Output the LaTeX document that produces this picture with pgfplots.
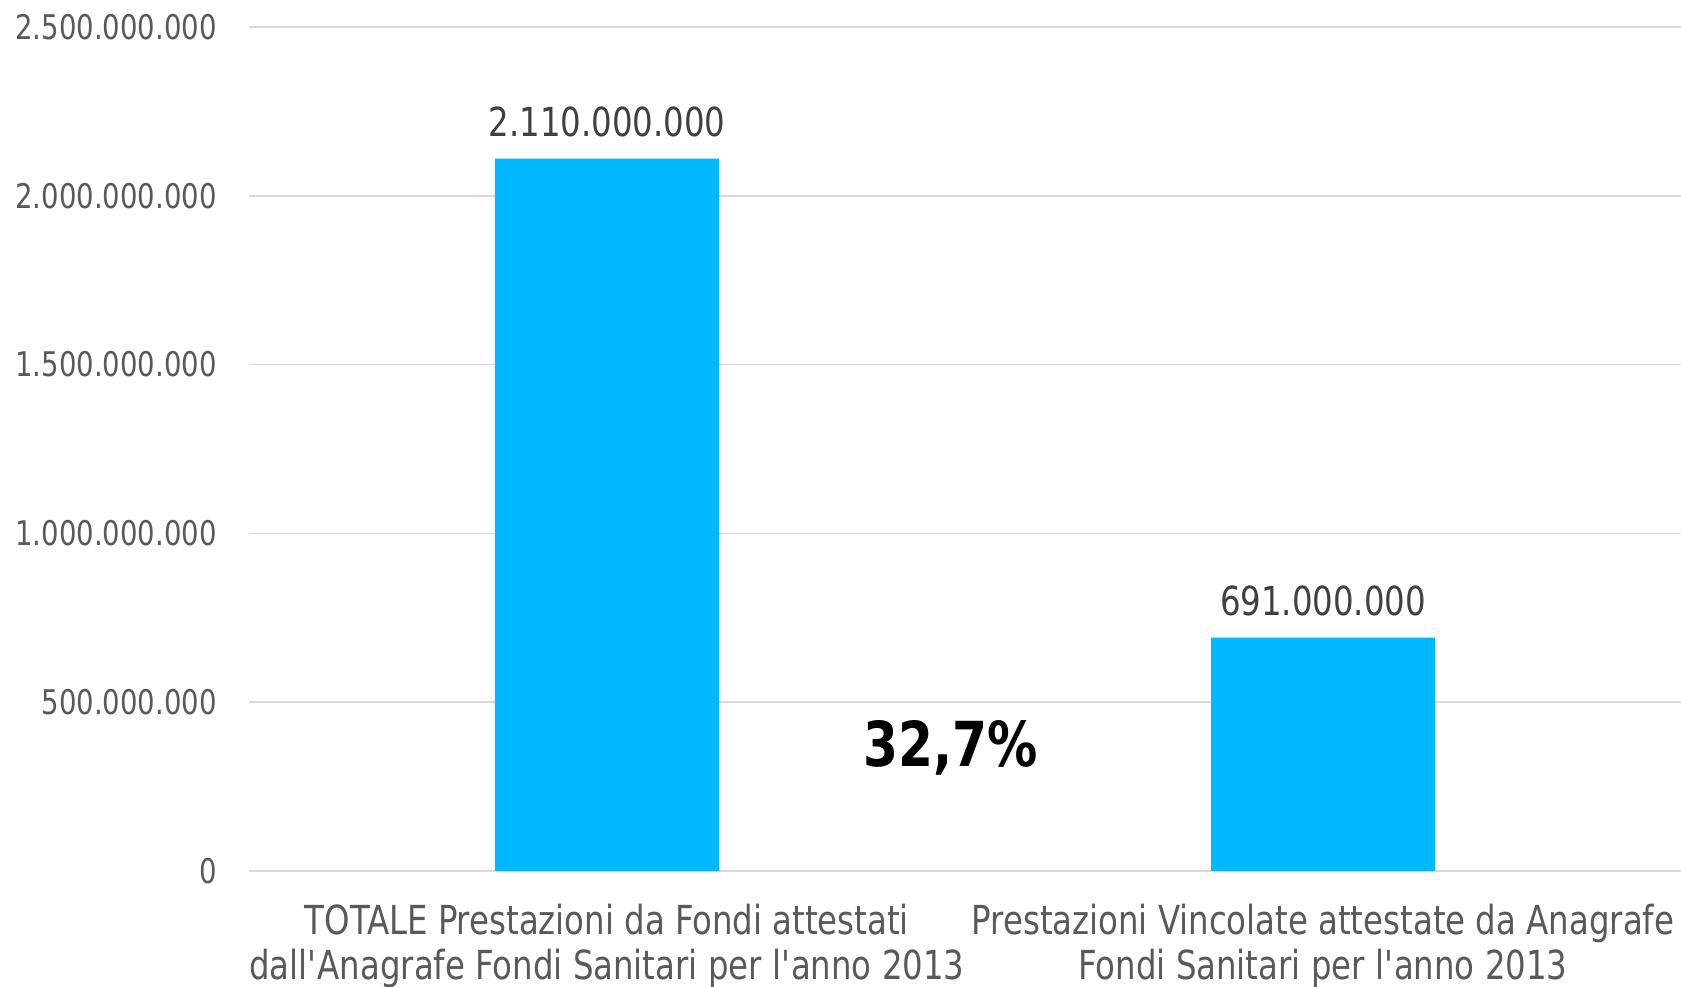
\documentclass[border=0pt]{standalone}
\usepackage{pgfplots}
\pgfplotsset{compat=1.18}
\usepackage{fontspec}
\setmainfont[FakeStretch=0.9]{DejaVu Sans Condensed}
\definecolor{barblue}{RGB}{0,184,255}
\definecolor{txtgray}{RGB}{89,89,89}
\definecolor{lblgray}{RGB}{64,64,64}
\definecolor{gridgray}{RGB}{217,217,217}
\begin{document}
\begin{tikzpicture}
\begin{axis}[
 name=ax,
 scale only axis,
 width=716pt, height=422pt,
 xmin=-0.5, xmax=1.5, ymin=0, ymax=2.5e9,
 scaled y ticks=false,
 axis line style={draw=none},
 major tick length=0pt,
 ymajorgrids, grid style={gridgray, line width=0.75pt},
 ytick={0,5e8,1e9,1.5e9,2e9,2.5e9},
 yticklabels={0,500.000.000,1.000.000.000,1.500.000.000,2.000.000.000,2.500.000.000},
 yticklabel style={font=\fontsize{17}{20}\selectfont, text=txtgray, inner sep=0pt, xshift=-16pt, anchor=east},
 xtick={0,1},
 xticklabels={{TOTALE Prestazioni da Fondi attestati\\dall\textquotesingle Anagrafe Fondi Sanitari per l\textquotesingle anno 2013},{Prestazioni Vincolate attestate da Anagrafe\\Fondi Sanitari per l\textquotesingle anno 2013}},
 xticklabel style={font=\fontsize{20}{22.5}\selectfont, text=txtgray, align=center, inner sep=0pt, yshift=-16.5pt, anchor=north},
 ybar, bar width=112pt,
 nodes near coords, point meta=explicit symbolic,
 nodes near coords style={font=\fontsize{20}{24}\selectfont, text=lblgray, inner sep=0pt, anchor=south, yshift=10.5pt},
 clip=false,
]
\addplot[fill=barblue, draw=none] coordinates {(0,2110000000) [2.110.000.000] (1,691000000) [691.000.000]};
\node[font=\fontsize{31}{36}\selectfont\bfseries, text=black] at (axis cs:0.48,3.64e8) {32,7\%};
\end{axis}
\pgfresetboundingbox
\path[use as bounding box] ([shift={(-124.5pt,-58pt)}]ax.south west) rectangle ([shift={(0pt,13.5pt)}]ax.north east);
\end{tikzpicture}
\end{document}
